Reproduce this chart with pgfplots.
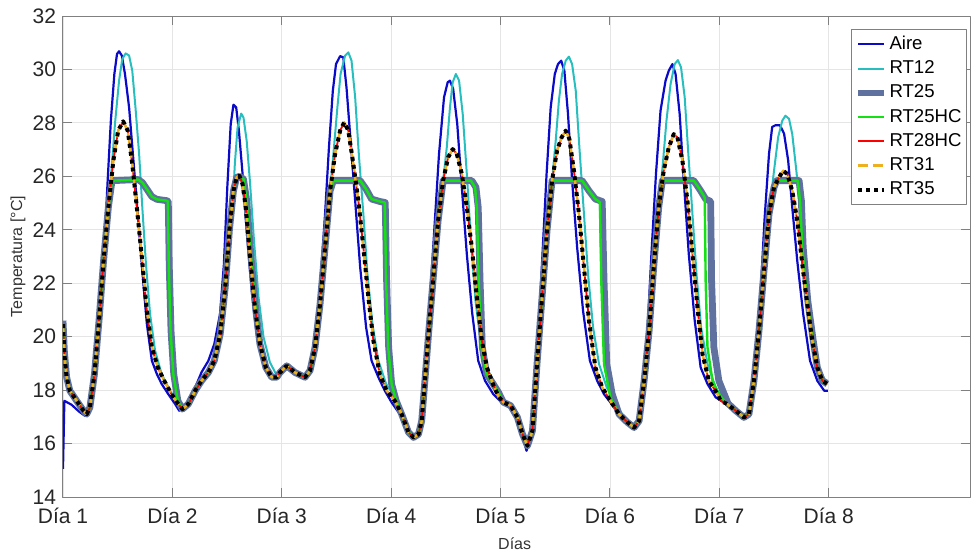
\documentclass[border=0pt]{standalone}
\usepackage{fontspec}
\setmainfont{Liberation Sans}
\usepackage{pgfplots}
\pgfplotsset{compat=1.18}
\usepackage{pgfplotstable}

\definecolor{aire}{RGB}{10,10,200}
\definecolor{rtdoce}{RGB}{40,190,190}
\definecolor{rtgris}{RGB}{95,113,158}
\definecolor{rtverde}{RGB}{20,225,20}
\definecolor{rtrojo}{RGB}{255,0,0}
\definecolor{rtnaranja}{RGB}{237,177,32}

% hours, temperature
\pgfplotstableread{
h T
0 15.05
0.3 17.6
1.9 17.45
3.5 17.2
4.8 17.04
5.56 17.35
7.0 18.85
8.1 20.85
9.07 23.35
9.8 25.84
10.5 28.08
11.27 29.83
11.85 30.58
12.3 30.68
12.9 30.52
13.6 29.83
14.5 28.58
15.4 26.7
16.4 24.6
17.4 22.47
18.4 20.47
19.5 19.1
20.6 18.6
21.65 18.23
23.1 17.85
24.6 17.48
25.5 17.23
27.1 17.42
29.0 18.1
30.4 18.67
31.9 19.1
33.2 19.73
34.45 20.85
35.3 22.7
36.05 25.6
36.8 27.96
37.4 28.68
38.0 28.58
38.6 27.7
39.4 26.09
40.3 23.97
41.4 21.72
42.5 20.1
43.6 19.22
45.1 18.73
46.2 18.48
47.6 18.6
49.1 18.9
50.9 18.65
53.1 18.48
54.3 18.85
55.5 20.1
56.5 22.1
57.5 24.6
58.35 27.08
59.2 29.2
59.9 30.2
60.8 30.5
61.5 30.45
62.2 29.33
63.1 27.33
64.1 25.09
65.2 22.6
66.5 20.35
67.7 19.1
69.2 18.48
70.6 17.98
72.1 17.54
73.9 17.1
75.4 16.48
76.7 16.23
77.7 16.33
78.7 17.1
79.6 18.98
80.5 21.35
81.5 24.1
82.5 26.84
83.6 28.96
84.4 29.52
84.9 29.58
85.6 29.27
86.5 27.96
87.5 25.59
88.6 23.09
89.8 20.85
91.1 19.1
92.6 18.35
94.4 17.85
96.2 17.54
97.8 17.42
99.3 17.1
100.4 16.48
101.3 15.98
101.7 15.73
102.4 16.11
103.3 17.73
104.3 20.1
105.2 23.09
106.1 26.09
107.0 28.58
107.9 29.83
108.6 30.2
109.3 30.33
110.0 29.95
110.8 28.33
111.7 25.84
112.8 23.35
114.1 20.97
115.6 19.1
117.2 18.35
118.7 17.85
120.1 17.54
122.0 17.1
123.8 16.8
125.3 16.6
126.4 16.77
127.3 17.98
128.2 20.1
129.1 23.09
130.1 26.09
131.1 28.46
132.2 29.58
132.9 29.95
133.7 30.2
134.4 29.83
135.3 28.33
136.2 25.84
137.3 23.09
138.6 20.6
139.9 18.85
141.4 18.23
143.2 17.73
145.0 17.54
147.6 17.17
149.4 16.92
150.7 17.1
151.8 18.6
152.9 21.1
153.9 24.34
154.9 26.84
155.6 27.85
156.3 27.91
157.3 27.91
158.2 27.6
159.1 26.6
160.0 24.84
161.1 22.84
162.4 20.85
163.9 19.1
165.5 18.35
167.0 17.98
167.8 17.98
}\aire

\pgfplotstableread{
h T
0 20.47
0.3 19.35
0.8 18.48
1.5 17.98
3.0 17.6
4.5 17.23
5.2 17.1
5.9 17.35
6.9 18.6
7.9 20.6
8.9 22.84
9.95 25.09
10.7 26.34
11.4 27.96
12.3 29.58
13.0 30.39
13.75 30.6
14.5 30.52
15.2 29.95
15.9 28.58
16.7 26.84
17.4 24.84
18.2 22.72
19.1 20.85
20.2 19.48
21.65 18.6
23.5 17.98
25.3 17.48
26.2 17.29
27.5 17.48
29.0 17.98
30.4 18.35
31.9 18.66
33.2 19.1
34.5 20.1
35.6 21.85
36.5 23.97
37.4 25.46
37.7 26.46
38.3 27.83
39.1 28.35
39.6 28.2
40.3 27.33
41.0 25.84
41.9 23.6
42.9 21.47
44.0 19.98
45.4 19.04
46.9 18.55
47.6 18.66
49.1 18.91
50.9 18.66
53.1 18.48
54.2 18.73
55.3 19.6
56.4 21.22
57.5 23.34
58.6 25.46
59.45 27.08
60.2 28.58
60.9 29.83
61.9 30.52
62.6 30.64
63.3 30.33
64.1 28.96
64.9 26.84
65.9 24.59
66.8 22.34
67.9 20.47
69.2 19.1
70.9 18.23
72.8 17.73
74.3 17.1
75.8 16.42
76.9 16.23
78.0 16.35
78.7 16.85
79.4 18.35
80.2 20.1
81.3 22.34
82.3 24.34
83.4 25.84
84.2 27.08
84.9 28.58
85.5 29.52
86.2 29.83
86.9 29.58
87.7 28.33
88.6 26.09
89.5 23.6
90.5 21.35
91.6 19.85
92.95 18.85
94.8 18.23
96.2 17.7
98.2 17.42
99.7 16.98
100.8 16.36
101.9 15.92
103.0 16.48
104.0 18.98
105.1 21.47
106.2 23.97
107.3 25.84
108.1 27.33
108.8 28.83
109.5 29.83
110.3 30.33
111.0 30.48
111.7 30.2
112.5 29.2
113.3 27.08
114.3 24.59
115.2 22.34
116.3 20.35
117.6 18.98
119.3 18.1
121.2 17.5
123.8 16.8
125.3 16.6
126.4 16.85
127.5 18.35
128.6 20.22
129.6 22.6
130.7 24.84
131.6 26.46
132.4 28.08
133.3 29.45
134.2 30.2
134.9 30.35
135.6 30.08
136.4 28.96
137.2 26.84
138.1 24.59
139.0 22.34
140.0 20.35
141.4 18.98
143.2 18.1
145.0 17.6
147.6 17.23
149.4 16.98
150.5 17.1
151.6 18.35
152.7 20.22
153.8 22.47
154.9 24.59
156.0 26.21
156.9 27.46
157.8 28.08
158.5 28.27
159.3 28.15
160.0 27.58
160.9 26.21
162.1 24.09
163.2 22.1
164.3 20.35
165.5 18.98
167.0 18.42
167.7 18.35
}\rtdoce

\pgfplotstableread{
h T
0 20.6
0.3 19.45
0.8 18.48
1.5 17.98
3.0 17.6
4.5 17.23
5.2 17.1
5.9 17.35
6.9 18.6
7.9 20.6
8.9 22.84
9.95 24.84
10.7 25.77
11.05 25.84
16.5 25.88
17.4 25.77
18.4 25.52
19.5 25.24
20.6 25.14
22.75 25.09
23.1 25.06
23.3 22.72
23.7 20.22
24.3 18.6
25.2 17.6
26.2 17.29
27.5 17.48
29.0 17.98
30.4 18.35
31.9 18.66
33.2 19.1
34.5 20.1
35.6 21.85
36.5 23.97
37.4 25.46
38.1 25.96
38.7 26.0
39.6 25.9
40.3 25.09
41.2 23.09
42.3 21.0
43.2 19.73
44.5 18.85
45.8 18.48
46.9 18.48
47.6 18.66
49.1 18.91
50.9 18.66
53.1 18.48
54.2 18.73
55.3 19.6
56.4 21.22
57.5 23.34
58.6 25.46
59.2 25.77
59.5 25.84
65.2 25.84
66.5 25.52
67.7 25.15
69.5 25.06
70.7 25.02
71.0 22.1
71.45 19.6
72.1 18.23
73.1 17.6
74.3 17.1
75.8 16.42
76.9 16.23
78.0 16.35
78.7 16.85
79.4 18.35
80.2 20.1
81.3 22.34
82.3 24.34
83.4 25.84
89.7 25.84
90.6 25.59
91.1 24.84
91.5 22.1
92.0 19.6
92.95 18.6
94.4 18.23
95.6 17.9
96.6 17.55
98.2 17.42
99.7 16.98
100.8 16.36
101.9 15.92
103.0 16.48
104.0 18.98
105.1 21.47
106.2 23.97
107.3 25.84
113.9 25.84
115.4 25.46
116.8 25.15
118.3 25.06
118.7 22.1
119.3 18.98
120.5 17.85
122.0 17.1
123.8 16.8
125.3 16.6
126.4 16.85
127.5 18.35
128.6 20.22
129.6 22.6
130.7 24.84
131.5 25.84
138.4 25.84
139.9 25.46
141.0 25.15
142.1 25.06
142.3 22.1
142.8 19.6
143.9 18.35
145.9 17.5
147.6 17.23
149.4 16.98
150.5 17.1
151.6 18.35
152.7 20.22
153.8 22.47
154.9 24.59
156.0 25.59
156.6 25.84
161.5 25.84
162.0 25.09
162.4 23.34
163.4 21.35
164.6 19.85
165.5 18.85
166.6 18.35
167.7 18.23
}\rtveinticinco

\pgfplotstableread{
h T
0 20.47
0.3 19.35
0.8 18.48
1.5 17.98
3.0 17.6
4.5 17.23
5.2 17.1
5.9 17.35
6.9 18.6
7.9 20.6
8.9 22.84
9.95 24.84
10.7 25.77
11.05 25.84
16.5 25.88
17.4 25.77
18.4 25.52
19.5 25.24
20.6 25.14
22.75 25.09
23.0 25.06
23.2 22.72
23.6 20.22
24.2 18.6
25.2 17.6
26.2 17.29
27.5 17.48
29.0 17.98
30.4 18.35
31.9 18.66
33.2 19.1
34.5 20.1
35.6 21.85
36.5 23.97
37.4 25.46
38.1 25.96
38.7 26.0
39.6 25.9
40.3 25.09
41.2 23.09
42.3 21.0
43.2 19.73
44.5 18.85
45.8 18.48
46.9 18.48
47.6 18.66
49.1 18.91
50.9 18.66
53.1 18.48
54.2 18.73
55.3 19.6
56.4 21.22
57.5 23.34
58.6 25.46
59.2 25.77
59.5 25.84
65.2 25.84
66.5 25.52
67.7 25.15
69.5 25.06
70.6 25.02
70.9 22.1
71.35 19.6
72.1 18.23
73.1 17.6
74.3 17.1
75.8 16.42
76.9 16.23
78.0 16.35
78.7 16.85
79.4 18.35
80.2 20.1
81.3 22.34
82.3 24.34
83.4 25.84
89.5 25.84
90.4 25.59
90.8 24.84
91.2 22.1
91.8 19.6
92.95 18.6
94.4 18.23
95.6 17.9
96.6 17.55
98.2 17.42
99.7 16.98
100.8 16.36
101.9 15.92
103.0 16.48
104.0 18.98
105.1 21.47
106.2 23.97
107.3 25.84
113.9 25.84
115.4 25.46
116.8 25.15
117.8 25.03
118.1 22.1
118.7 18.98
120.1 17.73
122.0 17.1
123.8 16.8
125.3 16.6
126.4 16.85
127.5 18.35
128.6 20.22
129.6 22.6
130.7 24.84
131.5 25.84
138.4 25.84
139.7 25.52
140.8 25.21
141.0 22.1
141.4 19.6
142.5 18.35
143.9 17.85
145.7 17.48
147.6 17.23
149.4 16.98
150.5 17.1
151.6 18.35
152.7 20.22
153.8 22.47
154.9 24.59
156.0 25.59
156.6 25.84
161.2 25.84
161.7 25.09
162.2 23.34
163.3 21.3
164.5 19.85
165.5 18.85
166.6 18.35
167.7 18.23
}\rtvhc

\pgfplotstableread{
h T
0 20.47
0.3 19.35
0.8 18.48
1.5 17.98
3.0 17.6
4.5 17.23
5.2 17.1
5.9 17.35
6.9 18.6
7.9 20.6
8.9 22.84
9.95 24.84
11.05 26.59
12.1 27.71
13.2 28.06
14.2 27.71
15.2 26.46
16.2 24.84
17.3 22.97
18.4 20.97
19.5 19.6
20.8 18.85
22.2 18.35
23.8 17.85
25.3 17.48
26.2 17.29
27.5 17.48
29.0 17.98
30.4 18.35
31.9 18.66
33.2 19.1
34.5 20.1
35.6 21.85
36.5 23.97
37.4 25.46
38.1 25.96
38.7 26.02
39.4 25.71
40.1 24.84
41.0 23.09
42.1 21.1
43.2 19.73
44.5 18.85
45.8 18.48
46.9 18.48
47.6 18.66
49.1 18.91
50.9 18.66
53.1 18.48
54.2 18.73
55.3 19.6
56.4 21.22
57.5 23.34
58.6 25.46
59.7 26.84
60.8 27.71
61.7 28.02
62.6 27.71
63.7 26.46
64.8 25.09
65.9 23.34
67.0 21.47
68.1 19.85
69.5 18.6
71.0 17.98
72.8 17.6
74.3 17.1
75.8 16.42
76.9 16.23
78.0 16.35
78.7 16.85
79.4 18.35
80.2 20.1
81.3 22.34
82.3 24.34
83.4 25.84
84.5 26.71
85.5 27.02
86.4 26.84
87.5 26.09
88.6 24.84
89.7 23.34
90.8 21.47
91.9 19.85
93.0 18.85
94.4 18.2
95.6 17.75
96.6 17.55
98.2 17.42
99.7 16.98
100.8 16.36
101.9 15.92
103.0 16.48
104.0 18.98
105.1 21.47
106.2 23.97
107.3 25.84
108.4 26.96
109.4 27.46
110.3 27.71
111.1 27.4
112.1 26.21
113.2 24.59
114.3 22.6
115.4 20.6
116.8 18.85
118.3 18.1
120.1 17.6
122.0 17.1
123.8 16.8
125.3 16.6
126.4 16.85
127.5 18.35
128.6 20.22
129.6 22.6
130.7 24.84
131.8 26.21
132.9 27.08
134.0 27.58
134.8 27.46
135.9 26.59
137.0 25.09
138.1 23.09
139.2 21.1
140.3 19.35
141.7 18.35
143.6 17.85
144.3 17.6
145.7 17.48
147.6 17.23
149.4 16.98
150.5 17.1
151.6 18.35
152.7 20.22
153.8 22.47
154.9 24.59
156.0 25.59
157.1 25.96
158.0 26.21
158.9 26.09
160.0 25.46
161.1 24.34
162.2 22.72
163.3 21.22
164.4 19.85
165.5 18.85
166.6 18.35
167.7 18.23
}\pcm

\begin{document}
\begin{tikzpicture}
\useasboundingbox (-31.5pt,-28pt) rectangle (454.5pt,248.5pt);
\begin{axis}[
  scale only axis,
  width=453.5pt, height=240.5pt,
  xmin=0, xmax=199, ymin=14, ymax=32,
  xtick={0,24,48,72,96,120,144,168},
  xticklabels={Día 1,Día 2,Día 3,Día 4,Día 5,Día 6,Día 7,Día 8},
  ytick={14,16,...,32},
  /pgf/number format/assume math mode=true,
  ticklabel style={font=\fontsize{10.5}{12}\selectfont, text=black!85},
  xticklabel style={yshift=-2pt},
  tick align=inside,
  major tick length=4.5pt,
  tick style={black!50, line width=0.5pt},
  axis line style={black!50, line width=0.5pt},
  grid=major,
  major grid style={black!10, line width=0.4pt},
  xlabel={Días},
  ylabel={Temperatura [°C]},
  every axis x label/.style={at={(axis description cs:0.498,-0.0977)}, anchor=center, font=\fontsize{8}{9}\selectfont, text=black!80},
  every axis y label/.style={at={(axis description cs:-0.0496,0.5)}, rotate=90, anchor=center, font=\fontsize{8}{9}\selectfont, text=black!80},
  legend style={at={(axis description cs:0.9967,0.973)}, anchor=north east,
    draw=black!50, fill=white, line width=0.5pt,
    font=\fontsize{9.3}{11}\selectfont, row sep=0.5pt, inner sep=1.5pt,
    nodes={inner xsep=1pt, inner ysep=1.8pt}},
  legend cell align=left,
  legend image code/.code={\draw[#1] (0pt,0pt) -- (13pt,0pt);},
  line join=round,
]
\addplot[aire, line width=1.1pt] table[x=h,y=T] {\aire};
\addlegendentry{Aire}
\addplot[rtdoce, line width=1pt] table[x=h,y=T] {\rtdoce};
\addlegendentry{RT12}
\addplot[rtgris, line width=3.4pt] table[x=h,y=T] {\rtveinticinco};
\addlegendentry{RT25}
\addplot[rtverde, line width=1.2pt] table[x=h,y=T] {\rtvhc};
\addlegendentry{RT25HC}
\addplot[rtrojo, line width=0.9pt] table[x=h,y=T] {\pcm};
\addlegendentry{RT28HC}
\addplot[rtnaranja, line width=1.2pt, dash pattern=on 5pt off 2.5pt] table[x=h,y=T] {\pcm};
\addlegendentry{RT31}
\addplot[black, line width=2pt, dash pattern=on 2pt off 2pt] table[x=h,y=T] {\pcm};
\addlegendentry{RT35}
\end{axis}
\end{tikzpicture}
\end{document}
